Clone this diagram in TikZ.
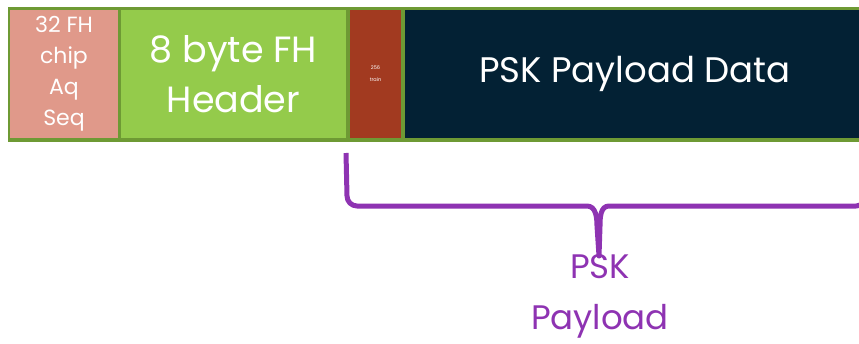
\documentclass[tikz,border=0pt]{standalone}
\usepackage{fontspec}
\setmainfont{Poppins}
\definecolor{frameGreen}{HTML}{6E9A34}
\definecolor{chipPink}{HTML}{E0998A}
\definecolor{hdrGreen}{HTML}{94CB4B}
\definecolor{trainRed}{HTML}{A23A20}
\definecolor{pskNavy}{HTML}{032134}
\definecolor{braceViolet}{HTML}{8E33B2}
\begin{document}
\begin{tikzpicture}[x=1pt,y=-1pt]
\tikzstyle{every node}+=[inner sep=0pt, outer sep=0pt]
\tikzstyle{field}=[anchor=north west, text=white, align=center, minimum height=128pt]
\useasboundingbox (0,0) rectangle (859,343);
\fill [frameGreen] (8,7) rectangle (870,142);
\node [field, fill=chipPink, minimum width=108pt, font=\fontsize{22}{31}\selectfont] (chip) at (10,10) {32 FH\\chip\\Aq\\Seq};
\node [field, fill=hdrGreen, minimum width=225pt, font=\fontsize{36.5}{50}\selectfont] (header) at (121,10) {8 byte FH\\Header};
\node [field, fill=trainRed, minimum width=51pt, font=\fontsize{5}{12}\selectfont] (train) at (350,10) {256\\train};
\node [field, fill=pskNavy, minimum width=460pt, font=\fontsize{35.5}{40}\selectfont] (data) at (405,10) {PSK Payload Data};
\node [text=braceViolet, align=center, font=\fontsize{34}{51}\selectfont] (label) at (600,296) {PSK\\Payload};
% brace under train + data
\coordinate (braceL) at (346,153);
\coordinate (braceTip) at (599,256);
\coordinate (braceR) at (866,185);
\draw [braceViolet, line width=5pt, line join=round]
  (braceL) -- ++(1,43) to[out=-90,in=180] ++(10,10)
  -- ++(230,0) to[out=0,in=90] ++(10,20)
  -- (braceTip) -- ++(1,-30) to[out=90,in=180] ++(9,-20)
  -- ++(247,0) to[out=0,in=-90] (braceR);
\end{tikzpicture}
\end{document}
